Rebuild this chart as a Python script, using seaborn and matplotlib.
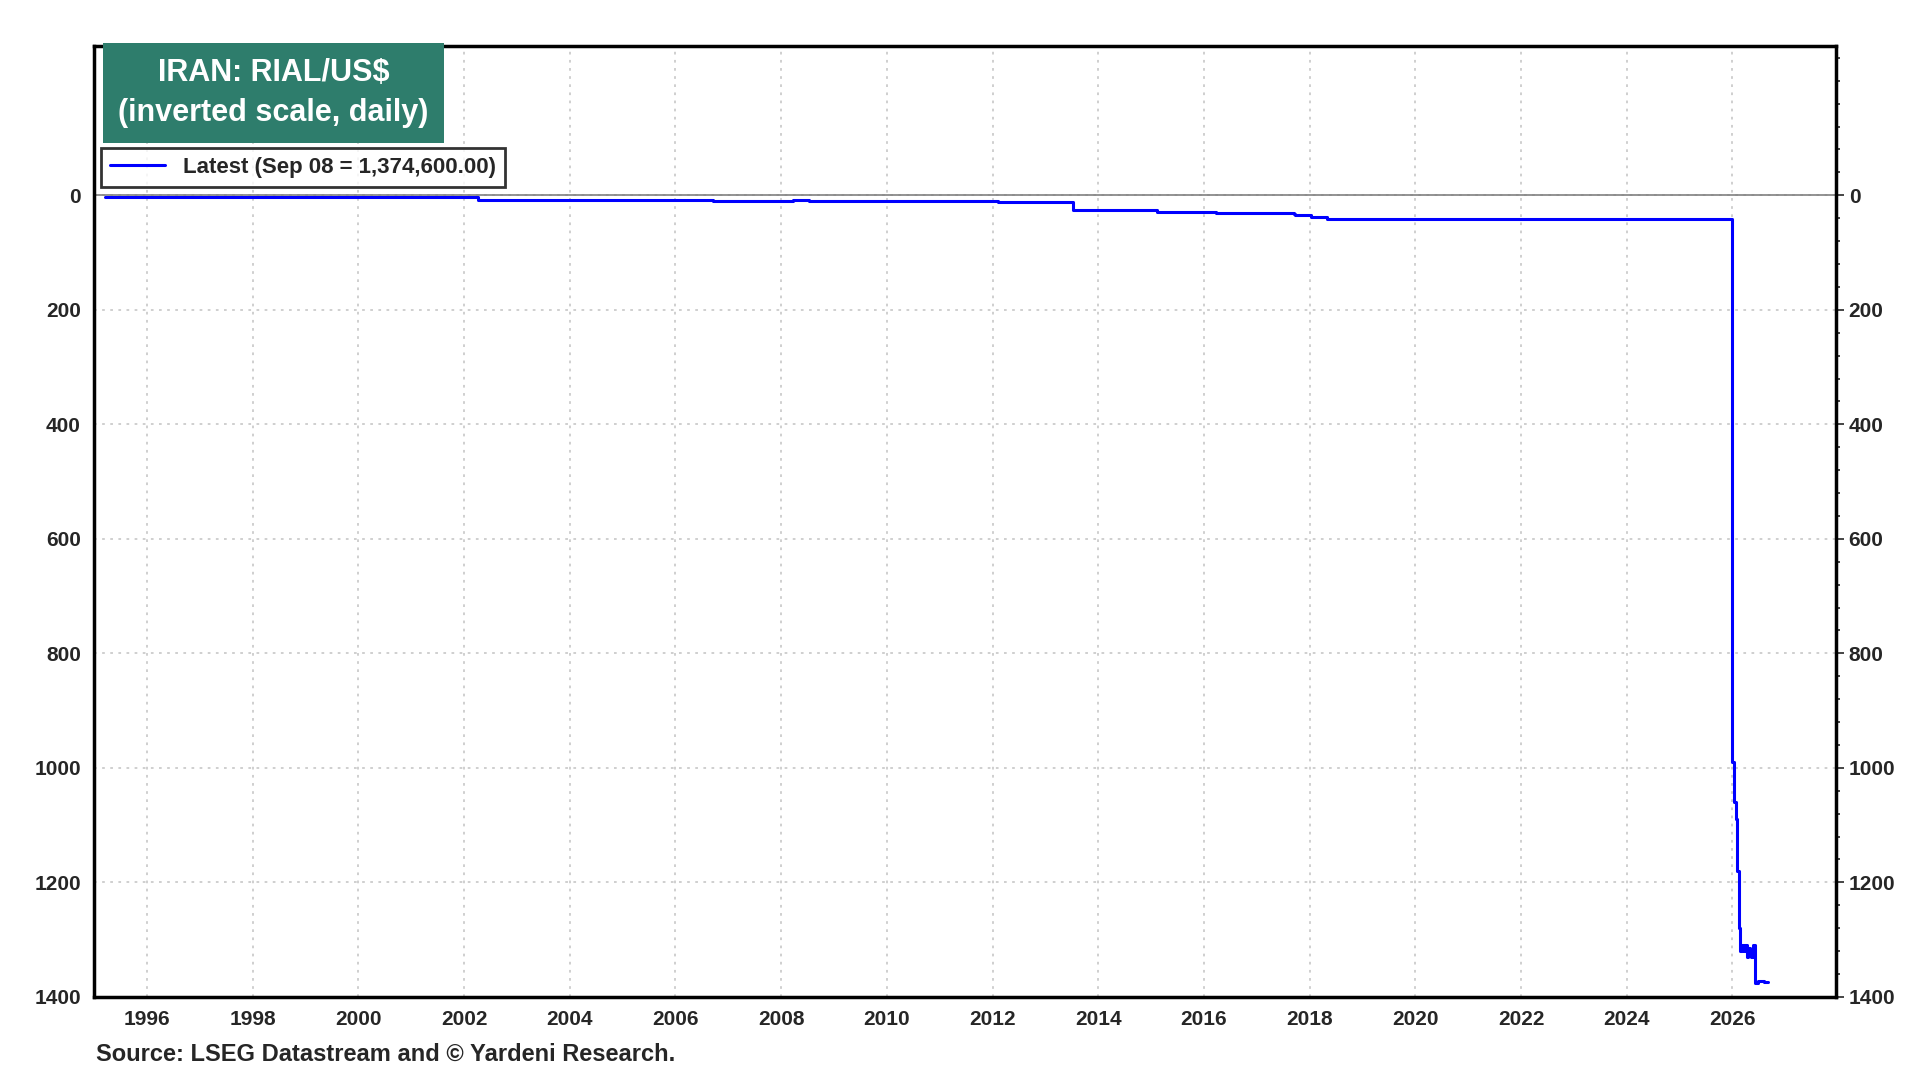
import matplotlib
matplotlib.use("Agg")
import matplotlib.pyplot as plt
import seaborn as sns
import pandas as pd
from matplotlib.ticker import MultipleLocator

years = [1995.2, 2002.25, 2002.27, 2006.7, 2006.72, 2008.2, 2008.22, 2008.5, 2008.52, 2012.08, 2012.1,
         2013.5, 2013.52, 2014.2, 2014.22, 2015.1, 2015.12, 2016.2, 2016.22, 2016.8, 2017.7, 2017.72,
         2018.0, 2018.02, 2018.3, 2018.32, 2018.5, 2025.98, 2026.0, 2026.03, 2026.06, 2026.09, 2026.12,
         2026.15, 2026.18, 2026.21, 2026.24, 2026.27, 2026.3, 2026.33, 2026.36, 2026.39, 2026.42,
         2026.45, 2026.48, 2026.52, 2026.56, 2026.6, 2026.68]
rial_k = [3, 3, 8, 8, 9.5, 9.5, 8, 8, 9.8, 9.8, 12,
          12, 25, 25, 26, 26, 29, 29, 31, 31, 33, 35,
          35, 38, 38, 42, 42, 42, 990, 1060, 1090, 1180, 1280,
          1320, 1310, 1320, 1310, 1330, 1315, 1320, 1330, 1310, 1375,
          1376, 1372, 1373, 1372, 1374, 1374.6]

df = pd.DataFrame({"year": years, "rial": rial_k})

sns.set_style("white")
plt.rcParams['font.family'] = ['Liberation Sans', 'DejaVu Sans']
fig = plt.figure(figsize=(19.2, 10.8), dpi=100)
ax = fig.add_axes([0.049, 0.077, 0.907, 0.88])
sns.lineplot(data=df, x="year", y="rial", ax=ax, color="#0000FF", lw=2.2, drawstyle="steps-post",
             estimator=None, label="Latest (Sep 08 = 1,374,600.00)")
ax.axhline(0, color="#808080", lw=1.2)
ax.set_xlim(1995.0, 2027.95)
ax.set_ylim(1400, -260)
ax.set_yticks(range(0, 1401, 200))
ax.set_xticks(range(1996, 2027, 2))
ax.xaxis.set_minor_locator(MultipleLocator(1))
ax.yaxis.set_minor_locator(MultipleLocator(40))
ax.grid(True, which="major", color="#cccccc", ls=(0, (1.5, 3)), lw=1.3)
for s in ax.spines.values():
    s.set_linewidth(2.5); s.set_color("black")
ax.tick_params(axis="both", which="both", direction="out", labelsize=15, width=1.2)
ax.tick_params(which="major", length=6)
ax.tick_params(which="minor", length=3)
ax.tick_params(axis="y", right=True, labelright=True, which="both")
for lab in ax.get_xticklabels() + ax.get_yticklabels() + ax.get_yticklabels(which="both"):
    lab.set_fontweight("bold")
ax.set_xlabel(""); ax.set_ylabel("")
leg = ax.legend(loc="upper left", bbox_to_anchor=(0.0, 0.9), frameon=True, fancybox=False,
                prop={"weight": "bold", "size": 16}, handlelength=2.5, borderpad=0.4,
                borderaxespad=0.3)
leg.get_frame().set_edgecolor("black"); leg.get_frame().set_linewidth(2)
ax.text(0.103, 0.988, "IRAN: RIAL/US$\n(inverted scale, daily)", transform=ax.transAxes,
        va="top", ha="center", fontsize=22, fontweight="bold", color="white", linespacing=1.45,
        bbox=dict(boxstyle="square,pad=0.5", fc="#2E7D6C", ec="none"))
fig.text(0.05, 0.018, "Source: LSEG Datastream and \u00a9 Yardeni Research.", fontsize=17, fontweight="bold")
fig.savefig("out.png", dpi=100)
